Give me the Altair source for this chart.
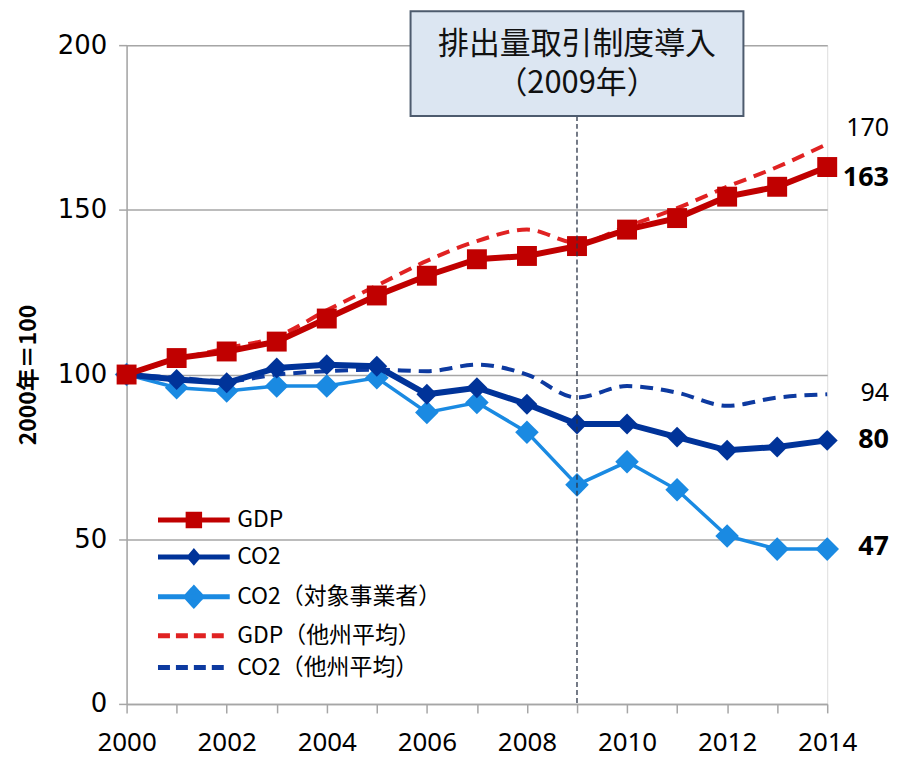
import altair as alt
import pandas as pd

years = list(range(2000, 2015))
gdp = [100, 105, 107, 110, 117, 124, 130, 135, 136, 139, 144, 147.5, 154, 157, 163]
co2 = [100, 98.5, 97.5, 102, 103, 102.5, 94, 96, 91, 85, 85, 81, 77, 78, 80]
co2_target = [100, 96, 95, 96.5, 96.5, 99, 88.5, 91.5, 82.5, 66.5, 73.5, 65, 51, 47, 47]
gdp_other = [100, 104.5, 108, 111.5, 119.5, 127, 134.5, 140.5, 144, 140, 145, 150.5, 157, 163, 170]
co2_other = [100, 99, 98, 100, 101, 101.5, 101, 103, 100, 93, 96.5, 94.5, 90.5, 93, 94]

series_names = ["GDP", "CO2", "CO2（対象事業者）", "GDP（他州平均）", "CO2（他州平均）"]
event_year = [2009]
event_text = ["排出量取引制度導入", "（2009年）"]
y_title = "2000年＝100"

colors = ["#c00000", "#003399", "#1a8ae2", "#e02222", "#0d3aa0"]
# legend glyphs (unit = 12px): a 72px line with the series marker in the middle
legend_paths = [
    "M-3,0H3M-0.48,-0.48H0.48V0.48H-0.48Z",
    "M-3,0H3M0,-0.42L0.36,0L0,0.42L-0.36,0Z",
    "M-3,0H3M0,-0.72L0.66,0L0,0.72L-0.66,0Z",
    "M-3,0H3",
    "M-3,0H3",
]
dashes = [[1, 0], [1, 0], [1, 0], [12, 6], [12, 6]]

rows = []
for name, vals in zip(series_names, [gdp, co2, co2_target, gdp_other, co2_other]):
    for yr, v in zip(years, vals):
        rows.append({"year": yr, "value": v, "series": name})
df = pd.DataFrame(rows)
last = df[df["year"] == years[-1]].copy()
last["label"] = last["value"].round().astype(int).astype(str)

FONT_CJK = "Noto Sans CJK JP"

x_enc = alt.X(
    "year:Q",
    scale=alt.Scale(domain=[2000, 2014], nice=False, zero=False),
    axis=alt.Axis(
        title=None, values=years, format="d",
        labelExpr="datum.value % 2 == 0 ? datum.label : ''",
        labelOverlap=False,
        grid=False, domainColor="#a6a6a6", domainWidth=1.5,
        tickColor="#a6a6a6", tickWidth=1.5, tickSize=9,
        labelFont="Noto Sans", labelFontSize=26, labelColor="#000000",
        labelPadding=17, labelFlush=False,
    ),
)
y_enc = alt.Y(
    "value:Q",
    scale=alt.Scale(domain=[0, 200], nice=False),
    axis=alt.Axis(
        title=y_title, values=[0, 50, 100, 150, 200],
        grid=True, gridColor="#a6a6a6", gridWidth=1.5,
        domainColor="#a6a6a6", domainWidth=1.5,
        tickColor="#a6a6a6", tickWidth=1.5, tickSize=8,
        labelFont="DejaVu Sans", labelFontSize=26, labelColor="#000000",
        labelPadding=12,
        titleFont=FONT_CJK, titleFontSize=23, titleFontWeight="bold",
        titleColor="#000000", titlePadding=17,
    ),
)

base = alt.Chart(df)


def sel(name):
    return base.transform_filter(alt.datum.series == name)


layers = []
# dashed (other states average), smoothed
layers.append(sel(series_names[3]).mark_line(color=colors[3], strokeWidth=4, strokeDash=[13, 8], interpolate="monotone").encode(x=x_enc, y=y_enc))
layers.append(sel(series_names[4]).mark_line(color=colors[4], strokeWidth=4, strokeDash=[13, 8], interpolate="monotone").encode(x=x_enc, y=y_enc))
# solid lines
layers.append(sel(series_names[2]).mark_line(color=colors[2], strokeWidth=3.5).encode(x=x_enc, y=y_enc))
layers.append(sel(series_names[2]).mark_point(color=colors[2], filled=True, opacity=1, shape="diamond", size=560).encode(x=x_enc, y=y_enc))
layers.append(sel(series_names[1]).mark_line(color=colors[1], strokeWidth=6).encode(x=x_enc, y=y_enc))
layers.append(sel(series_names[1]).mark_point(color=colors[1], filled=True, opacity=1, shape="diamond", size=440).encode(x=x_enc, y=y_enc))
layers.append(sel(series_names[0]).mark_line(color=colors[0], strokeWidth=6).encode(x=x_enc, y=y_enc))
layers.append(sel(series_names[0]).mark_point(color=colors[0], filled=True, opacity=1, shape="square", size=400).encode(x=x_enc, y=y_enc))

# legend (native, built from scales)
leg = alt.Legend(
    title=None, orient="none", legendX=29, legendY=462,
    symbolSize=576, symbolStrokeWidth=5, symbolOffset=24, labelOffset=29,
    labelFont=FONT_CJK, labelFontSize=23, labelColor="#000000",
    labelLimit=400, rowPadding=5, symbolOpacity=1,
)
legend_layer = base.transform_filter("datum.year > 3000").mark_point(filled=True).encode(
    x=x_enc, y=y_enc,
    fill=alt.Fill("series:N", scale=alt.Scale(domain=series_names, range=colors), legend=leg),
    stroke=alt.Stroke("series:N", scale=alt.Scale(domain=series_names, range=colors), legend=leg),
    shape=alt.Shape("series:N", scale=alt.Scale(domain=series_names, range=legend_paths), legend=leg),
    strokeDash=alt.StrokeDash("series:N", scale=alt.Scale(domain=series_names, range=dashes), legend=leg),
)
layers.append(legend_layer)

# end labels
lab = alt.Chart(last)
offsets = {series_names[0]: (11, "bold"), series_names[1]: (0, "bold"), series_names[2]: (-2, "bold"),
           series_names[3]: (-16, "normal"), series_names[4]: (-1, "normal")}
for name, (dy, wt) in offsets.items():
    layers.append(
        lab.transform_filter(alt.datum.series == name).mark_text(
            align="right", baseline="middle", dx=62, dy=dy, font="Noto Sans",
            fontSize=27 if wt == "bold" else 25, fontWeight=wt, color="#000000",
        ).encode(x=x_enc, y=y_enc, text="label:N")
    )

# event annotation
ev = alt.Chart(pd.DataFrame({"year": event_year}))
layers.append(ev.mark_rule(color="#2b3447", strokeWidth=1.3, strokeDash=[5, 3]).encode(
    x=x_enc, y=alt.value(71), y2=alt.value(661)))
layers.append(ev.mark_rect(width=334, height=105, fill="#dce6f2", stroke="#4d5b6e", strokeWidth=2).encode(
    x=x_enc, y=alt.value(18.5)))
layers.append(ev.mark_text(text=event_text, font=FONT_CJK, fontSize=31, lineHeight=39,
                           baseline="middle", align="center", color="#111111").encode(
    x=x_enc, y=alt.value(0)))

chart = alt.layer(*layers).properties(
    width=703, height=661,
    autosize=alt.AutoSizeParams(type="none"),
    padding={"left": 119, "top": 36, "right": 64, "bottom": 54},
).configure_view(stroke=None).configure(background="#ffffff")

chart.save("out.html", embed_options={"renderer": "svg", "actions": False})
